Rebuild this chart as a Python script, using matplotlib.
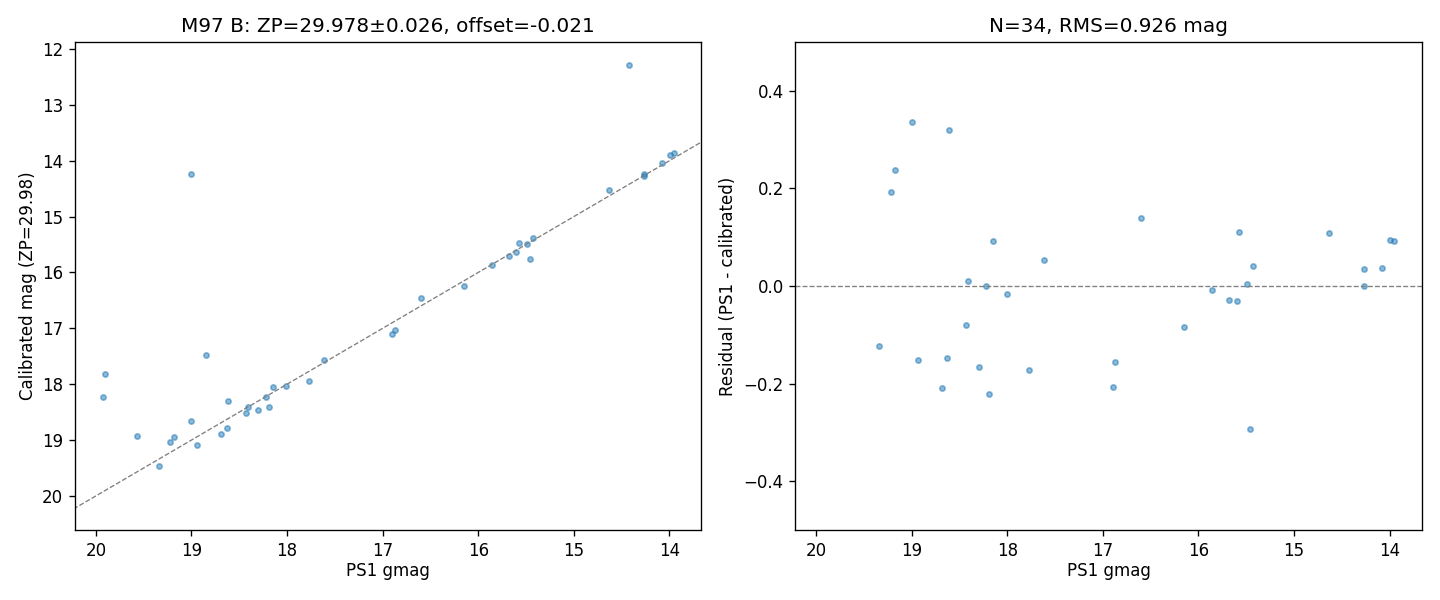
import numpy as np
import matplotlib
matplotlib.use("Agg")
import matplotlib.pyplot as plt

# stars kept in the residual window: PS1 gmag and residual (PS1 - calibrated)
gmag = [19.34, 19.22, 19.18, 19.004, 18.94, 18.69, 18.63, 18.617, 18.43, 18.41,
        18.30, 18.22, 18.19, 18.147, 18.01, 17.77, 17.614, 16.90, 16.87, 16.60,
        16.15, 15.86, 15.68, 15.60, 15.575, 15.49, 15.46, 15.43, 14.635, 14.27,
        14.27, 14.08, 13.997, 13.955]
resid = [-0.122, 0.192, 0.237, 0.336, -0.152, -0.210, -0.148, 0.319, -0.079, 0.010,
         -0.167, -0.001, -0.222, 0.092, -0.017, -0.173, 0.053, -0.208, -0.155, 0.139,
         -0.085, -0.009, -0.029, -0.031, 0.110, 0.004, -0.294, 0.040, 0.108, 0.034,
         -0.001, 0.036, 0.094, 0.092]

# outliers (off the residual window)
out_gmag = [19.924, 19.903, 19.568, 19.005, 18.845, 14.426]
out_calib = [18.234, 17.822, 18.932, 14.243, 17.482, 12.292]

title_left = "M97 B: ZP=29.978\u00b10.026, offset=-0.021"
title_right = "N=34, RMS=0.926 mag"

gmag = np.array(gmag)
resid = np.array(resid)
calib = gmag - resid

x_all = np.concatenate([gmag, out_gmag])
y_all = np.concatenate([calib, out_calib])

fig, (ax1, ax2) = plt.subplots(1, 2, figsize=(12, 5), dpi=120)
fig.subplots_adjust(left=0.052, right=0.9875, top=0.93, bottom=0.1167, wspace=0.15)

# left: calibrated vs catalogue
ax1.scatter(x_all, y_all, s=10, alpha=0.5, color="C0")
xx = np.array([20.3, 13.5])
ax1.plot(xx, xx, "--", color="gray", lw=0.8)
ax1.set_xlim(20.22, 13.665)
ax1.set_ylim(20.61, 11.875)
ax1.set_xticks([20, 19, 18, 17, 16, 15, 14])
ax1.set_yticks([12, 13, 14, 15, 16, 17, 18, 19, 20])
ax1.set_xlabel("PS1 gmag", labelpad=1.5)
ax1.set_ylabel("Calibrated mag (ZP=29.98)", labelpad=3)
ax1.set_title(title_left)

# right: residuals
ax2.scatter(gmag, resid, s=10, alpha=0.5, color="C0")
ax2.axhline(0, ls="--", color="gray", lw=0.8)
ax2.set_xlim(20.22, 13.66)
ax2.set_ylim(-0.5, 0.5)
ax2.set_xticks([20, 19, 18, 17, 16, 15, 14])
ax2.set_yticks([-0.4, -0.2, 0.0, 0.2, 0.4])
ax2.set_xlabel("PS1 gmag", labelpad=1.5)
ax2.set_ylabel("Residual (PS1 - calibrated)")
ax2.set_title(title_right)

fig.savefig("out.png")
